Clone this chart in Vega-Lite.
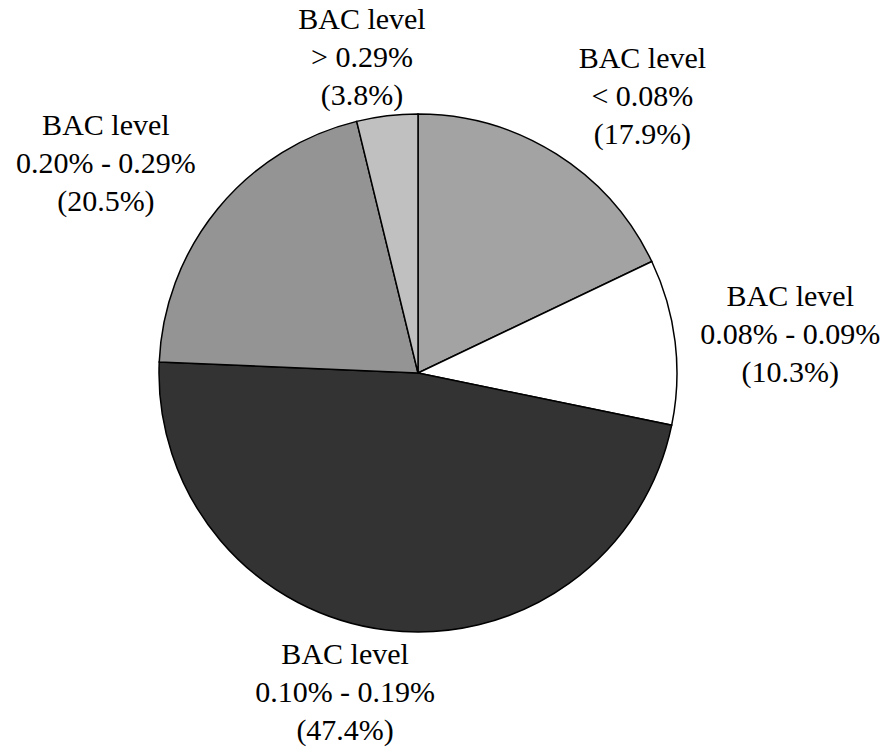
{
  "$schema": "https://vega.github.io/schema/vega-lite/v6.json",
  "width": 836,
  "height": 746,
  "autosize": "none",
  "padding": {"left": 0, "top": 0, "right": 50, "bottom": 2},
  "background": "white",
  "config": {"view": {"stroke": null}},
  "data": {
    "values": [
      {"ord": 1, "level": "< 0.08%", "pct": 17.9, "label": "BAC level\n< 0.08%\n(17.9%)"},
      {"ord": 2, "level": "0.08% - 0.09%", "pct": 10.3, "label": "BAC level\n0.08% - 0.09%\n(10.3%)"},
      {"ord": 3, "level": "0.10% - 0.19%", "pct": 47.4, "label": "BAC level\n0.10% - 0.19%\n(47.4%)"},
      {"ord": 4, "level": "0.20% - 0.29%", "pct": 20.5, "label": "BAC level\n0.20% - 0.29%\n(20.5%)"},
      {"ord": 5, "level": "> 0.29%", "pct": 3.8, "label": "BAC level\n> 0.29%\n(3.8%)"}
    ]
  },
  "transform": [
    {"stack": "pct", "groupby": [], "sort": [{"field": "ord", "order": "ascending"}], "as": ["t0", "t1"]},
    {"calculate": "(datum.t0 + datum.t1) / 2", "as": "tmid"}
  ],
  "layer": [
    {
      "mark": {"type": "arc", "outerRadius": 259, "stroke": "black", "strokeWidth": 1.5},
      "encoding": {
        "theta": {"field": "t0", "type": "quantitative", "scale": {"domain": [0, 99.9]}},
        "theta2": {"field": "t1"},
        "color": {
          "field": "level", "type": "nominal", "legend": null,
          "scale": {
            "domain": ["< 0.08%", "0.08% - 0.09%", "0.10% - 0.19%", "0.20% - 0.29%", "> 0.29%"],
            "range": ["#a3a3a3", "#ffffff", "#333333", "#949494", "#c0c0c0"]
          }
        }
      }
    },
    {
      "transform": [{"filter": "datum.ord == 1"}],
      "mark": {"type": "text", "radius": 353, "dx": 36, "dy": -15, "font": "Liberation Serif", "fontSize": 30, "lineHeight": 38, "lineBreak": "\n", "align": "center", "baseline": "middle", "color": "black"},
      "encoding": {"theta": {"field": "tmid", "type": "quantitative", "scale": {"domain": [0, 99.9]}}, "text": {"field": "label"}}
    },
    {
      "transform": [{"filter": "datum.ord == 2"}],
      "mark": {"type": "text", "radius": 374, "dx": 1, "dy": -31, "font": "Liberation Serif", "fontSize": 30, "lineHeight": 38, "lineBreak": "\n", "align": "center", "baseline": "middle", "color": "black"},
      "encoding": {"theta": {"field": "tmid", "type": "quantitative", "scale": {"domain": [0, 99.9]}}, "text": {"field": "label"}}
    },
    {
      "transform": [{"filter": "datum.ord == 3"}],
      "mark": {"type": "text", "radius": 326, "dx": -33, "dy": -42, "font": "Liberation Serif", "fontSize": 30, "lineHeight": 38, "lineBreak": "\n", "align": "center", "baseline": "middle", "color": "black"},
      "encoding": {"theta": {"field": "tmid", "type": "quantitative", "scale": {"domain": [0, 99.9]}}, "text": {"field": "label"}}
    },
    {
      "transform": [{"filter": "datum.ord == 4"}],
      "mark": {"type": "text", "radius": 374, "dx": -23, "dy": -10, "font": "Liberation Serif", "fontSize": 30, "lineHeight": 38, "lineBreak": "\n", "align": "center", "baseline": "middle", "color": "black"},
      "encoding": {"theta": {"field": "tmid", "type": "quantitative", "scale": {"domain": [0, 99.9]}}, "text": {"field": "label"}}
    },
    {
      "transform": [{"filter": "datum.ord == 5"}],
      "mark": {"type": "text", "radius": 319, "dx": -18, "dy": -36, "font": "Liberation Serif", "fontSize": 30, "lineHeight": 38, "lineBreak": "\n", "align": "center", "baseline": "middle", "color": "black"},
      "encoding": {"theta": {"field": "tmid", "type": "quantitative", "scale": {"domain": [0, 99.9]}}, "text": {"field": "label"}}
    }
  ]
}
